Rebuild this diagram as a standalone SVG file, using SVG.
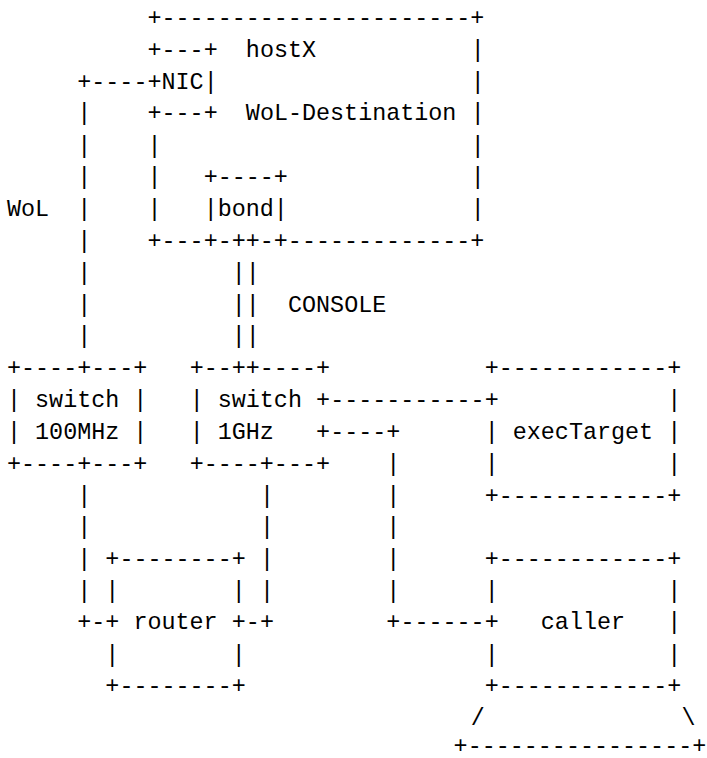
<svg xmlns="http://www.w3.org/2000/svg" width="707" height="758" viewBox="0 0 707 758" xml:space="preserve">
<style>
text{font-family:"Liberation Mono","Courier New",monospace;font-size:23.4px;fill:#000;white-space:pre}
</style>
<rect width="707" height="758" fill="#fff"/>
<g id="hostX">
<text x="147.5" y="25.2">+----------------------+</text>
<text x="245.85" y="57.0">hostX</text><text x="470.65" y="57.0">|</text>
<text x="470.65" y="88.8">|</text>
<text x="245.85" y="119.5">WoL-Destination</text><text x="470.65" y="119.5">|</text>
<text x="147.5" y="152.5">|</text><text x="470.65" y="152.5">|</text>
<text x="147.5" y="184.3">|</text><text x="470.65" y="184.3">|</text>
<text x="147.5" y="216.1">|</text><text x="470.65" y="216.1">|</text>
<text x="147.5" y="247.9">+---+-++-+-------------+</text>
</g>
<g id="nic">
<text x="147.5" y="57.0">+---+</text>
<text x="147.5" y="88.8">+NIC|</text>
<text x="147.5" y="119.5">+---+</text>
</g>
<g id="bond">
<text x="203.7" y="184.3">+----+</text>
<text x="203.7" y="216.1">|bond|</text>
</g>
<g id="switch100">
<text x="7" y="375.2">+----+---+</text>
<text x="7" y="407.0">| switch |</text>
<text x="7" y="438.9">| 100MHz |</text>
<text x="7" y="470.7">+----+---+</text>
</g>
<g id="switch1g">
<text x="189.65" y="375.2">+--++----+</text>
<text x="189.65" y="407.0">| switch +</text>
<text x="189.65" y="438.9">| 1GHz   +</text>
<text x="189.65" y="470.7">+----+---+</text>
</g>
<g id="execTarget">
<text x="484.7" y="375.2">+------------+</text>
<text x="484.7" y="407.0">+            |</text>
<text x="484.7" y="438.9">| execTarget |</text>
<text x="484.7" y="470.7">|            |</text>
<text x="484.7" y="502.5">+------------+</text>
</g>
<g id="router">
<text x="105.35" y="566.1">+--------+</text>
<text x="105.35" y="598.0">|        |</text>
<text x="105.35" y="628.5">+ router +</text>
<text x="105.35" y="661.6">|        |</text>
<text x="105.35" y="693.4">+--------+</text>
</g>
<g id="caller">
<text x="484.7" y="566.1">+------------+</text>
<text x="484.7" y="598.0">|            |</text>
<text x="484.7" y="628.5">+   caller   |</text>
<text x="484.7" y="661.6">|            |</text>
<text x="484.7" y="693.4">+------------+</text>
<text x="470.65" y="725.2">/</text><text x="681.4" y="725.2">\</text>
<text x="453.6" y="752.5">+----------------+</text>
</g>
<g id="labels">
<text x="7" y="216.1">WoL</text>
<text x="288" y="311.6">CONSOLE</text>
</g>
<g id="connectors">
<text x="77.25" y="88.8">+----</text>
<text x="77.25" y="119.5">|</text>
<text x="77.25" y="152.5">|</text>
<text x="77.25" y="184.3">|</text>
<text x="77.25" y="216.1">|</text>
<text x="77.25" y="247.9">|</text>
<text x="77.25" y="279.8">|</text>
<text x="77.25" y="311.6">|</text>
<text x="77.25" y="343.4">|</text>
<text x="231.8" y="279.8">||</text>
<text x="231.8" y="311.6">||</text>
<text x="231.8" y="343.4">||</text>
<text x="77.25" y="502.5">|</text>
<text x="77.25" y="534.3">|</text>
<text x="77.25" y="566.1">|</text>
<text x="77.25" y="598.0">|</text>
<text x="77.25" y="628.5">+-</text>
<text x="259.9" y="502.5">|</text>
<text x="259.9" y="534.3">|</text>
<text x="259.9" y="566.1">|</text>
<text x="259.9" y="598.0">|</text>
<text x="245.85" y="628.5">-+</text>
<text x="330.15" y="407.0">-----------</text>
<text x="330.15" y="438.9">----+</text>
<text x="386.35" y="470.7">|</text>
<text x="386.35" y="502.5">|</text>
<text x="386.35" y="534.3">|</text>
<text x="386.35" y="566.1">|</text>
<text x="386.35" y="598.0">|</text>
<text x="386.35" y="628.5">+------</text>
</g>
</svg>
